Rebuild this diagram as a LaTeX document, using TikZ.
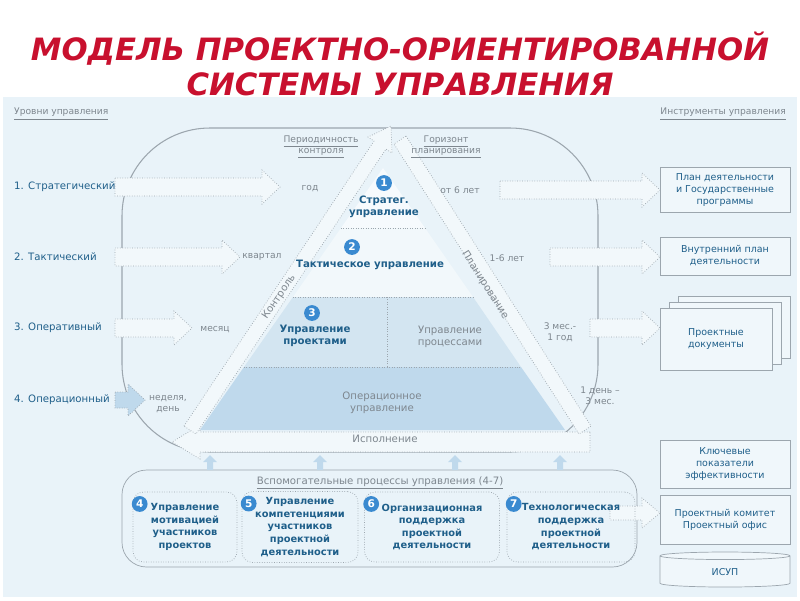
\documentclass[tikz,border=0pt]{standalone}
\usepackage{fontspec}
\setmainfont{DejaVu Sans}
\usetikzlibrary{shapes,positioning}
\definecolor{bg}{HTML}{E9F3F9}
\definecolor{dk}{HTML}{1F5F8A}
\definecolor{gr}{HTML}{7E878F}
\definecolor{ln}{HTML}{9CA6AE}
\definecolor{nb}{HTML}{3A8AD0}
\definecolor{rd}{HTML}{C8102E}
\definecolor{lay}{HTML}{D3E5F1}
\definecolor{op}{HTML}{BFD9EC}
\tikzset{
  lbl/.style={font=\fontsize{5.8}{7}\selectfont,text=dk,align=center},
  gry/.style={font=\fontsize{5.2}{6.4}\selectfont,text=gr,align=center},
  lvl/.style={font=\fontsize{5.8}{7}\selectfont,text=dk,anchor=west},
  num/.style={circle,fill=nb,text=white,inner sep=0pt,minimum size=9pt,font=\fontsize{6}{6}\bfseries\selectfont},
  hollow/.style={draw=ln,densely dotted,fill=bg!60!white},
  tool/.style={draw=ln,fill=bg!70!white,font=\fontsize{5.4}{6.8}\selectfont,text=dk,align=center,inner sep=1pt},
  sub/.style={draw=ln,densely dotted,rounded corners=6pt,font=\fontsize{5.6}{7.2}\bfseries\selectfont,text=dk,align=center}
}
\newcommand{\harrow}[4]{% x1,x2,y,half body
  \draw[hollow] (#1,#3-#4) -- (#2-18,#3-#4) -- (#2-18,#3-#4-8) -- (#2,#3) -- (#2-18,#3+#4+8) -- (#2-18,#3+#4) -- (#1,#3+#4) -- cycle;}
\begin{document}
\begin{tikzpicture}[x=0.02cm,y=-0.02cm]
\useasboundingbox (0,0) rectangle (800,600);
\fill[white] (0,0) rectangle (800,600);
%
%  TITLE
%
\node[text=rd,font=\fontsize{17.5}{20}\bfseries\itshape\selectfont,align=center] (title) at (400,64) {МОДЕЛЬ ПРОЕКТНО-ОРИЕНТИРОВАННОЙ\\СИСТЕМЫ УПРАВЛЕНИЯ};
\fill[bg] (3,97) rectangle (797,597);
\node[gry,anchor=west] (lvls) at (8,114) {\underline{Уровни управления}};
\node[gry,anchor=east] (tools) at (792,114) {\underline{Инструменты управления}};
%
%  FRAMES
%
\draw[ln,semithick] (122,128) [rounded corners=50pt] -- (122,128) rectangle (598,452);
\draw[ln] (122,470) [rounded corners=14pt] rectangle (637,567);
%
%  PYRAMID
%
\fill[white!60!bg] (383,168) -- (341,228) -- (425,228) -- cycle;
\fill[white!40!bg] (341,228) -- (293,297) -- (473,297) -- (425,228) -- cycle;
\fill[lay] (293,297) -- (244,367) -- (521,367) -- (473,297) -- cycle;
\fill[op] (244,367) -- (200,430) -- (565,430) -- (521,367) -- cycle;
\draw[ln,densely dotted] (341,228) -- (425,228) (293,297) -- (473,297) (244,367) -- (521,367) (387,297) -- (387,367);
\draw[hollow] (590,432) -- (200,432) -- (200,425) -- (172,442) -- (200,459) -- (200,452) -- (590,452) -- cycle;
\draw[hollow] (184,426) -- (374,141) -- (368,137) -- (391,126) -- (392,153) -- (386,149) -- (196,434) -- cycle;
\draw[hollow] (406,136) -- (591,426) -- (579,434) -- (394,144) -- cycle;
\node[lbl,text=gr,inner sep=0pt,rotate=56.3] (ctrl) at (279,297) {Контроль};
\node[lbl,text=gr,inner sep=0pt,rotate=-57.5] (plan) at (485,285) {Планирование};
\node[lbl,text=gr] (exec) at (385,439) {Исполнение};
\node[num] (n1) at (384,183) {1};
\node[lbl,font=\fontsize{5.8}{7}\bfseries\selectfont] (strat) at (384,207) {Стратег.\\управление};
\node[num] (n2) at (352,247) {2};
\node[lbl,font=\fontsize{5.8}{7}\bfseries\selectfont] (tact) at (370,265) {Тактическое управление};
\node[num] (n3) at (312,313) {3};
\node[lbl,font=\fontsize{5.8}{7}\bfseries\selectfont] (proj) at (315,336) {Управление\\проектами};
\node[lbl,text=gr] (proc) at (450,337) {Управление\\процессами};
\node[lbl,text=gr] (oper) at (382,403) {Операционное\\управление};
%
%  LEVELS
%
\node[lvl] (l1) at (8,187) {1. Стратегический};
\node[lvl] (l2) at (8,257) {2. Тактический};
\node[lvl] (l3) at (8,328) {3. Оперативный};
\node[lvl] (l4) at (8,400) {4. Операционный};
\harrow{115}{280}{187}{9}
\harrow{115}{240}{257}{9}
\harrow{115}{192}{328}{9}
\draw[ln,densely dotted,fill=op] (115,392) -- (128,392) -- (128,384) -- (145,400) -- (128,416) -- (128,408) -- (115,408) -- cycle;
\node[gry] (p1) at (310,189) {год};
\node[gry] (p2) at (262,257) {квартал};
\node[gry] (p3) at (215,330) {месяц};
\node[gry] (p4) at (168,404) {неделя,\\день};
\node[gry] (pc) at (321,147) {\underline{Периодичность}\\\underline{контроля}};
\node[gry] (hz) at (446,147) {\underline{Горизонт}\\\underline{планирования}};
\node[gry] (h1) at (460,190) {от 6 лет};
\node[gry] (h2) at (507,258) {1-6 лет};
\node[gry] (h3) at (560,332) {3 мес.-\\1 год};
\node[gry] (h4) at (600,396) {1 день –\\3 мес.};
\harrow{500}{660}{190}{9}
\harrow{550}{660}{257}{9}
\harrow{590}{660}{328}{9}
%
%  TOOLS
%
\node[tool,minimum width=130*0.02cm,minimum height=45*0.02cm] (t1) at (725,190) {План деятельности\\и Государственные\\программы};
\node[tool,minimum width=130*0.02cm,minimum height=38*0.02cm] (t2) at (725,256) {Внутренний план\\деятельности};
\node[tool,minimum width=112*0.02cm,minimum height=62*0.02cm] (t3c) at (734,327) {};
\node[tool,minimum width=112*0.02cm,minimum height=62*0.02cm] (t3b) at (725,333) {};
\node[tool,minimum width=112*0.02cm,minimum height=62*0.02cm] (t3) at (716,339) {Проектные\\документы};
\node[tool,minimum width=130*0.02cm,minimum height=48*0.02cm] (t4) at (725,464) {Ключевые\\показатели\\эффективности};
\node[tool,minimum width=130*0.02cm,minimum height=49*0.02cm] (t5) at (725,520) {Проектный комитет\\Проектный офис};
\node[tool,cylinder,shape border rotate=90,aspect=0.25,minimum width=130*0.02cm,minimum height=35*0.02cm] (t6) at (725,572) {ИСУП};
\harrow{610}{660}{513}{7}
%
%  SUPPORT PROCESSES
%
\node[gry,font=\fontsize{5.8}{7}\selectfont] (sup) at (380,483) {\underline{Вспомогательные процессы управления (4-7)}};
\node[sub,minimum width=104*0.02cm,minimum height=70*0.02cm] (s4) at (185,527) {Управление\\мотивацией\\участников\\проектов};
\node[sub,minimum width=116*0.02cm,minimum height=70*0.02cm] (s5) at (300,527) {Управление\\компетенциями\\участников\\проектной\\деятельности};
\node[sub,minimum width=135*0.02cm,minimum height=70*0.02cm] (s6) at (432,527) {Организационная\\поддержка\\проектной\\деятельности};
\node[sub,minimum width=128*0.02cm,minimum height=70*0.02cm] (s7) at (571,527) {Технологическая\\поддержка\\проектной\\деятельности};
\node[num] at (s4.north west) [xshift=4pt,yshift=-7pt] (n4) {4};
\node[num] at (s5.north west) [xshift=4pt,yshift=-7pt] (n5) {5};
\node[num] at (s6.north west) [xshift=4pt,yshift=-7pt] (n6) {6};
\node[num] at (s7.north west) [xshift=4pt,yshift=-7pt] (n7) {7};
\foreach \x in {210,320,455,560}
  \fill[op] (\x-3,470) -- (\x-3,462) -- (\x-7,462) -- (\x,455) -- (\x+7,462) -- (\x+3,462) -- (\x+3,470) -- cycle;
\end{tikzpicture}
\end{document}
